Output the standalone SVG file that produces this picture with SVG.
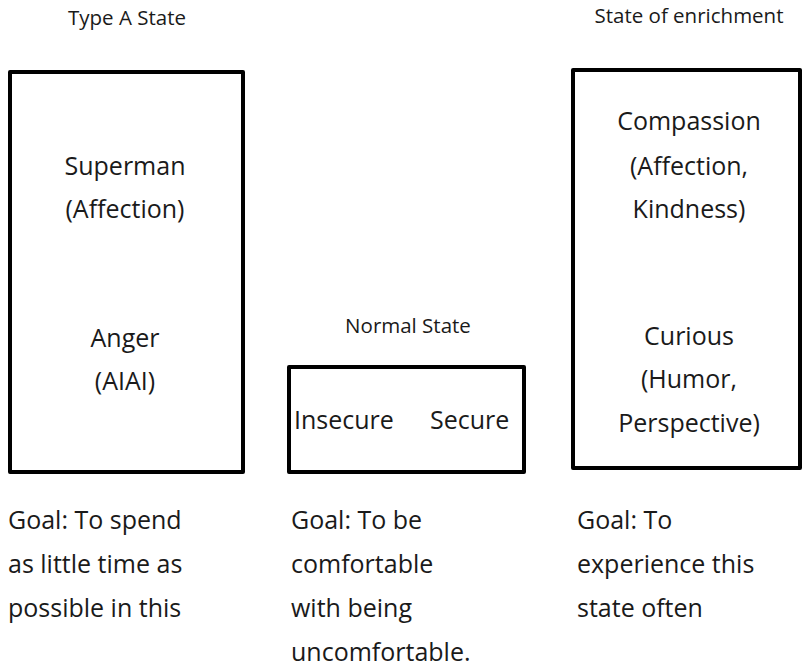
<svg xmlns="http://www.w3.org/2000/svg" width="802" height="668" viewBox="0 0 802 668">
<style>
text{font-family:"Open Sans","Noto Sans","Liberation Sans",sans-serif;fill:#1a1a1a}
.t{font-size:20.5px;text-anchor:middle}
.b{font-size:25px;text-anchor:middle}
.g{font-size:25px}
.box{fill:none;stroke:#000;stroke-width:4;stroke-linejoin:round}
</style>
<rect width="802" height="668" fill="#fff"/>
<g id="typeA">
<text class="t" x="127" y="25">Type A State</text>
<rect class="box" x="10" y="72" width="233" height="400"/>
<text class="b" x="125" y="175">Superman</text>
<text class="b" x="125" y="218">(Affection)</text>
<text class="b" x="125" y="347">Anger</text>
<text class="b" x="125" y="390">(AIAI)</text>
</g>
<g id="normal">
<text class="t" x="408" y="333">Normal State</text>
<rect class="box" x="289" y="367" width="235" height="105"/>
<text class="g" x="294" y="429">Insecure</text>
<text class="g" x="430" y="429">Secure</text>
</g>
<g id="enrich">
<text class="t" x="689" y="23">State of enrichment</text>
<rect class="box" x="573" y="70" width="227" height="398"/>
<text class="b" x="689" y="130">Compassion</text>
<text class="b" x="689" y="175">(Affection,</text>
<text class="b" x="689" y="218">Kindness)</text>
<text class="b" x="689" y="345">Curious</text>
<text class="b" x="689" y="388">(Humor,</text>
<text class="b" x="689" y="432">Perspective)</text>
</g>
<g id="goals">
<text class="g" x="8" y="529">Goal: To spend</text>
<text class="g" x="8" y="573">as little time as</text>
<text class="g" x="8" y="617">possible in this</text>
<text class="g" x="291" y="529">Goal: To be</text>
<text class="g" x="291" y="573">comfortable</text>
<text class="g" x="291" y="617">with being</text>
<text class="g" x="291" y="661">uncomfortable.</text>
<text class="g" x="577" y="529">Goal: To</text>
<text class="g" x="577" y="573">experience this</text>
<text class="g" x="577" y="617">state often</text>
</g>
<g id="connectors"/>
</svg>
